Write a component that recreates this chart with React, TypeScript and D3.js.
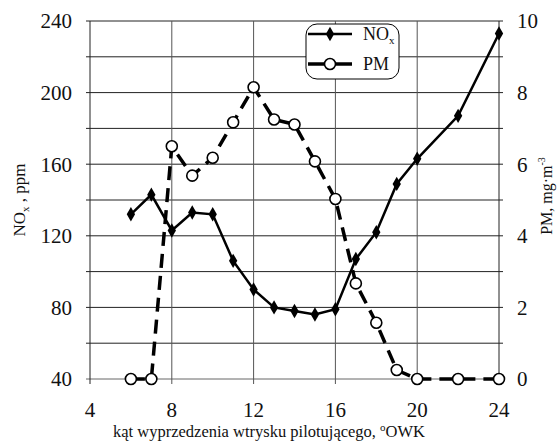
import React from "react";
import * as d3 from "d3";

const xs = [6, 7, 8, 9, 10, 11, 12, 13, 14, 15, 16, 17, 18, 19, 20, 22, 24];
const noxValues = [132, 143, 123, 133, 132, 106, 90, 80, 78, 76, 79, 107, 122, 149, 163, 187, 233];
const pmValues = [0, 0, 6.5, 5.68, 6.18, 7.17, 8.15, 7.25, 7.11, 6.08, 5.03, 2.67, 1.57, 0.25, 0, 0, 0];
const xTicks = [4, 8, 12, 16, 20, 24];
const leftTicks = [40, 80, 120, 160, 200, 240];
const leftGrid = [40, 60, 80, 100, 120, 140, 160, 180, 200, 220, 240];
const rightTicks = [0, 2, 4, 6, 8, 10];

const W = 558;
const H = 441;
const L = 90, R = 499, T = 21, B = 379;
const FONT = "Liberation Serif, Times New Roman, DejaVu Serif, serif";

export default function App() {
  const x = d3.scaleLinear().domain([4, 24]).range([L, R]);
  const yL = d3.scaleLinear().domain([40, 240]).range([B, T]);
  const yR = d3.scaleLinear().domain([0, 10]).range([B, T]);

  const noxLine = d3.line<number>().x((_, i) => x(xs[i])).y((v) => yL(v));
  const pmLine = d3.line<number>().x((_, i) => x(xs[i])).y((v) => yR(v));
  const diamond = d3.symbol().type(d3.symbolDiamond).size(60)();
  const ts = { fontFamily: FONT };

  return (
    <svg width={W} height={H} style={{ position: "absolute", left: 0, top: 0, background: "#fff", fontFamily: FONT }}>
      <rect x={0} y={0} width={W} height={H} fill="#fff" />
      {leftGrid.map((v) => (
        <line key={"h" + v} x1={L - 4} x2={R + 4} y1={yL(v)} y2={yL(v)} stroke={v === 40 ? "#666" : "#222"} strokeWidth={1} />
      ))}
      {xTicks.map((v) => (
        <line key={"v" + v} x1={x(v)} x2={x(v)} y1={T} y2={B + 5} stroke={v === 4 || v === 24 ? "#222" : "#555"} strokeWidth={1} />
      ))}
      {leftTicks.map((v) => (
        <text key={"lt" + v} style={ts} x={72} y={yL(v)} dy="0.35em" textAnchor="end" fontSize={21} fill="#111">{v}</text>
      ))}
      {rightTicks.map((v) => (
        <text key={"rt" + v} style={ts} x={517} y={yR(v)} dy="0.35em" textAnchor="start" fontSize={21} fill="#111">{v}</text>
      ))}
      {xTicks.map((v) => (
        <text key={"xt" + v} style={ts} x={x(v)} y={417} textAnchor="middle" fontSize={21} fill="#111">{v}</text>
      ))}
      <text style={ts} x={269} y={437} textAnchor="middle" fontSize={16.5} fill="#111">
        kąt wyprzedzenia wtrysku pilotującego, <tspan fontSize={11} dy={-6}>o</tspan><tspan dy={6}>OWK</tspan>
      </text>
      <text style={ts} transform="translate(25,200) rotate(-90)" textAnchor="middle" fontSize={17} fill="#111">
        NO<tspan fontSize={11} dy={4}>x</tspan><tspan dy={-4}> , ppm</tspan>
      </text>
      <text style={ts} transform="translate(552,196) rotate(-90)" textAnchor="middle" fontSize={16} fill="#111">
        PM, mg·m<tspan fontSize={10} dy={-7}>-3</tspan>
      </text>

      <path d={pmLine(pmValues) || ""} fill="none" stroke="#000" strokeWidth={3.5} strokeDasharray="14,8" />
      {pmValues.map((v, i) => (
        <circle key={"pm" + i} cx={x(xs[i])} cy={yR(v)} r={5.5} fill="#fff" stroke="#000" strokeWidth={1.6} />
      ))}
      <path d={noxLine(noxValues) || ""} fill="none" stroke="#000" strokeWidth={2.5} />
      {noxValues.map((v, i) => (
        <path key={"nx" + i} d={diamond || ""} transform={`translate(${x(xs[i])},${yL(v)})`} fill="#000" />
      ))}

      <rect x={306} y={24} width={93} height={55} rx={11} ry={11} fill="#fff" stroke="#000" strokeWidth={1} />
      <line x1={308} x2={352} y1={34} y2={34} stroke="#000" strokeWidth={2.5} />
      <path d={diamond || ""} transform="translate(330,34)" fill="#000" />
      <text style={ts} x={363} y={34} dy="0.35em" fontSize={18} fill="#111">
        NO<tspan fontSize={11} dy={4}>x</tspan>
      </text>
      <line x1={308} x2={352} y1={64} y2={64} stroke="#000" strokeWidth={3.5} />
      <circle cx={330} cy={64} r={5.5} fill="#fff" stroke="#000" strokeWidth={1.6} />
      <text style={ts} x={363} y={64} dy="0.35em" fontSize={18} fill="#111">PM</text>
    </svg>
  );
}
